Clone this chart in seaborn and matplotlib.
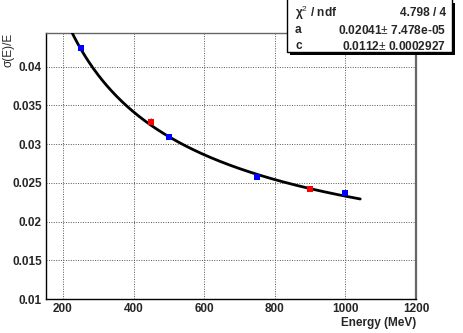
import numpy as np
import pandas as pd
import matplotlib
matplotlib.use("Agg")
import matplotlib.pyplot as plt
import seaborn as sns
from matplotlib.ticker import MultipleLocator
from matplotlib.patches import Rectangle

# data
blue_energy = [250, 500, 750, 1000]
blue_res = [0.0424, 0.0309, 0.0258, 0.02366]
blue_err = [0.0002, 0.0002, 0.0002, 0.0002]
red_energy = [450, 900]
red_res = [0.0329, 0.02426]
red_err = [0.0005, 0.0002]
fit_a = 0.02041
fit_c = 0.0112
fit_range = [200, 1042]
stats_rows = [("χ$^2$ / ndf", "4.798 / 4"),
              ("a", "0.02041$\\pm$ 7.478e-05"),
              ("c", "0.0112$\\pm$ 0.0002927")]

sns.set_style("white")
plt.rcParams['font.family'] = ['Liberation Sans', 'DejaVu Sans']
plt.rcParams['mathtext.fontset'] = 'custom'
plt.rcParams['mathtext.rm'] = 'Liberation Sans'
plt.rcParams['mathtext.it'] = 'Liberation Sans:italic'
plt.rcParams['mathtext.bf'] = 'Liberation Sans:bold'

fig = plt.figure(figsize=(4.63, 3.33), dpi=100)
ax = fig.add_axes([46/463, 1-299/333, 370/463, 266/333])

df_b = pd.DataFrame({"E": blue_energy, "r": blue_res})
df_r = pd.DataFrame({"E": red_energy, "r": red_res})

E = np.linspace(fit_range[0], fit_range[1], 400)
fit = np.sqrt(fit_a**2 / (E / 1000.0) + fit_c**2)
df_fit = pd.DataFrame({"E": E, "r": fit})

ax.errorbar(blue_energy, blue_res, yerr=blue_err, fmt='none', ecolor='#444444', elinewidth=1, zorder=2)
ax.errorbar(red_energy, red_res, yerr=red_err, fmt='none', ecolor='#444444', elinewidth=1, zorder=2)
sns.lineplot(data=df_fit, x="E", y="r", ax=ax, color='black', linewidth=2, zorder=3)
sns.scatterplot(data=df_b, x="E", y="r", ax=ax, color='blue', marker='s', s=24, edgecolor='blue', linewidth=0, zorder=4)
sns.scatterplot(data=df_r, x="E", y="r", ax=ax, color='red', marker='s', s=24, edgecolor='red', linewidth=0, zorder=4)

ax.set_xlim(152, 1200)
ax.set_ylim(0.01, 0.04435)
ax.xaxis.set_major_locator(MultipleLocator(200))
ax.xaxis.set_minor_locator(MultipleLocator(50))
ax.yaxis.set_major_locator(MultipleLocator(0.005))
ax.yaxis.set_minor_locator(MultipleLocator(0.001))
ax.set_yticks([0.01, 0.015, 0.02, 0.025, 0.03, 0.035, 0.04])
ax.set_yticklabels(["0.01", "0.015", "0.02", "0.025", "0.03", "0.035", "0.04"])
ax.set_xticks([200, 400, 600, 800, 1000, 1200])
ax.set_xticklabels(["200", "400", "600", "800", "1000", "1200"])
ax.tick_params(axis='both', which='major', direction='in', length=8, width=0.8,
               labelsize=8.5, top=False, right=False, pad=3)
ax.tick_params(axis='both', which='minor', direction='in', length=4, width=0.8,
               top=False, right=False)
for lab in ax.get_xticklabels() + ax.get_yticklabels():
    lab.set_fontweight('bold')
ax.grid(True, which='major', linestyle=(0, (1, 1.5)), color='#555555', linewidth=0.7)
for s in ax.spines.values():
    s.set_color('black')
    s.set_linewidth(1)
ax.spines['top'].set_color('#666666')
ax.spines['right'].set_color('#666666')
ax.spines['right'].set_linewidth(1.6)

ax.set_xlabel("Energy (MeV)", fontsize=8.5, fontweight='bold', loc='right', labelpad=1)
ax.set_ylabel("σ(E)/E", fontsize=8.5, loc='top')
ax.yaxis.set_label_coords(-37/370, 1.0)
ax.yaxis.label.set_va('center')

# stats box
x0, y0, x1, y1 = 287/463, 1-52/333, 452/463, 1.0
fig.patches.append(Rectangle((x0+3/463, y0-3/333), x1-x0, y1-y0, transform=fig.transFigure,
                             facecolor='black', edgecolor='none', zorder=9))
fig.patches.append(Rectangle((x0, y0), x1-x0, y1-y0+0.01, transform=fig.transFigure,
                             facecolor='white', edgecolor='black', linewidth=1, zorder=10))
row_y = [13, 30, 46]
for (left, right), yy in zip(stats_rows, row_y):
    fig.text(x0 + 8/463, 1-yy/333, left, fontsize=8.6, fontweight='bold', va='center', ha='left', zorder=11)
    fig.text(x1 - 6/463, 1-yy/333, right, fontsize=8.6, fontweight='bold', va='center', ha='right', zorder=11)

fig.savefig("out.png", dpi=100)
